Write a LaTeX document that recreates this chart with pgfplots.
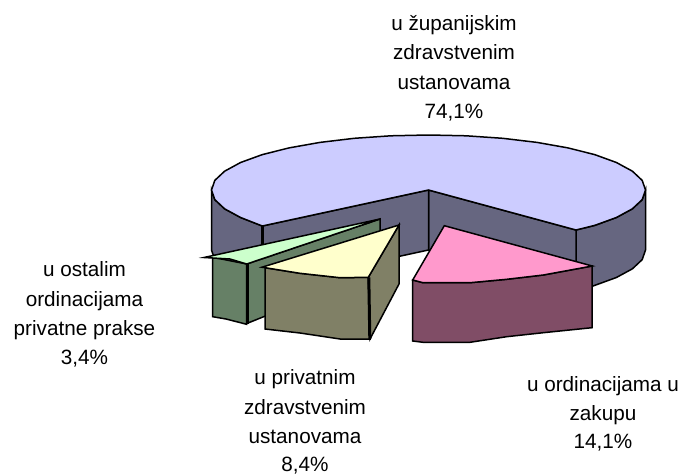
\documentclass[border=0pt]{standalone}
\usepackage{pgfplots}
\pgfplotsset{compat=1.18}
\usepackage{fontspec}
\setmainfont{Liberation Sans}
\definecolor{bluetop}{HTML}{CCCCFF}
\definecolor{blueside}{HTML}{666680}
\definecolor{pinktop}{HTML}{FF99CC}
\definecolor{pinkside}{HTML}{804D66}
\definecolor{yeltop}{HTML}{FFFFCC}
\definecolor{yelside}{HTML}{808066}
\definecolor{grntop}{HTML}{CCFFCC}
\definecolor{grnside}{HTML}{668066}
\begin{document}
\begin{tikzpicture}[x=1pt,y=1pt]
\begin{axis}[
  scale only axis, width=683bp, height=475bp,
  xmin=0, xmax=683, ymin=0, ymax=475, y dir=reverse,
  hide axis, clip=false, axis line style={draw=none},
  every axis plot/.append style={draw=black, line width=1.5bp, line join=miter, mark=none}]
% outer wall right
\addplot[fill=blueside] coordinates {(576,230)(594.7,225.4)(616.4,217.5)(632.4,208.8)(642.2,199.6)(645.5,190)(645.5,250)(642.2,259.6)(632.4,268.8)(616.4,277.5)(594.7,285.4)(576,292)} -- cycle;
% inner wall right
\addplot[fill=blueside] coordinates {(428.5,190)(576,230)(576,290)(428.5,250)} -- cycle;
% inner wall left
\addplot[fill=blueside] coordinates {(428.5,190)(262.3,226)(262.3,286)(428.5,250)} -- cycle;
% outer wall left
\addplot[fill=blueside] coordinates {(211.5,190)(214.8,199.6)(224.6,208.8)(240.6,217.5)(262.3,226)(262.3,286)(240.6,277.5)(224.6,268.8)(214.8,259.6)(211.5,250)} -- cycle;
% top of the large slice (74,1%)
\addplot[fill=bluetop] coordinates {(428.5,190)(576,230)(594.7,225.4)(616.4,217.5)(632.4,208.8)(642.2,199.6)(645.5,190)(642.2,180.4)(632.4,171.2)(616.4,162.5)(594.7,154.6)(568,147.9)(537,142.4)(502.7,138.3)(466.2,135.8)(428.5,135)(390.8,135.8)(354.3,138.3)(320,142.4)(289,147.9)(262.3,154.6)(240.6,162.5)(224.6,171.2)(214.8,180.4)(211.5,190)(214.8,199.6)(224.6,208.8)(240.6,217.5)(262.3,226)} -- cycle;
\addplot[line width=3bp] coordinates {(262.5,226)(262.5,247)};
% green slice (3,4%)
\addplot[fill=grnside] coordinates {(246.7,264)(380,219)(380,270)(248,323)} -- cycle;
\addplot[fill=grnside] coordinates {(212.7,257.3)(246.7,264)(246.7,324.3)(226,319)(212.7,316.7)} -- cycle;
\addplot[fill=grntop] coordinates {(204,257.5)(380,219)(246.7,264)(230,259)} -- cycle;
\addplot[line width=3bp] coordinates {(247,264)(247,324)};
% yellow slice (8,4%)
\addplot[fill=yelside] coordinates {(368.3,277.3)(399,225)(399,284)(370,339)} -- cycle;
\addplot[fill=yelside] coordinates {(265,267.7)(300,273.3)(340,277.7)(368.3,277.3)(370,339)(340,339)(300,333)(265,329)} -- cycle;
\addplot[fill=yeltop] coordinates {(262,267.2)(399,225)(368.3,277.3)(340,277.7)(300,273.3)} -- cycle;
\addplot[line width=3bp] coordinates {(368.8,277.3)(369.8,339)};
% pink slice (14,1%)
\addplot[fill=pinkside] coordinates {(412.7,280)(423,282.7)(470,282.7)(506.7,279.3)(543.3,275)(592,266)(592,327.7)(543.3,332.7)(506.7,336.7)(470,342.3)(423,342.3)(412.7,341)} -- cycle;
\addplot[fill=pinktop] coordinates {(444.3,225.7)(592.3,266)(543.3,275)(506.7,279.3)(470,282.7)(423,282.7)(412.7,280)} -- cycle;
% labels
\def\lab#1#2#3{\node[font=\fontsize{20.7bp}{24bp}\selectfont,anchor=base,inner sep=0pt] at (axis cs:#1,#2) {#3};}
\lab{454}{30.7}{u županijskim}
\lab{454}{59.3}{zdravstvenim}
\lab{454}{89.3}{ustanovama}
\lab{454}{118.3}{74,1\%}
\lab{84.5}{276}{u ostalim}
\lab{84.5}{306}{ordinacijama}
\lab{84.5}{335}{privatne prakse}
\lab{84.5}{364.3}{3,4\%}
\lab{305}{384.3}{u privatnim}
\lab{305}{414.3}{zdravstvenim}
\lab{305}{443}{ustanovama}
\lab{305}{471.7}{8,4\%}
\lab{603}{391}{u ordinacijama u}
\lab{603}{420}{zakupu}
\lab{603}{448.3}{14,1\%}
\path (axis cs:0,0) rectangle (axis cs:683,475);
\end{axis}
\end{tikzpicture}
\end{document}
